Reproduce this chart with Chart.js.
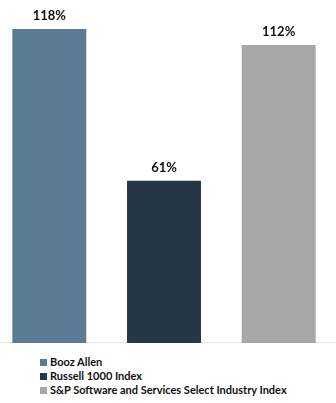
<!DOCTYPE html>
<html lang="en">
<head>
    <meta charset="UTF-8">
    <title>Total Shareholder Return</title>
    <script src="https://cdn.jsdelivr.net/npm/chart.js"></script>
    <style>
        body {
            margin: 0;
            background: #fff;
            width: 336px;
            height: 403px;
            overflow: hidden;
            position: relative;
            font-family: Lato, "Liberation Sans", sans-serif;
        }
        #wrap {
            position: absolute;
            left: -8px;
            top: 0;
            width: 344px;
            height: 343px;
        }
        #legend {
            position: absolute;
            left: 40px;
            top: 355px;
            font-size: 11px;
            font-weight: bold;
            color: #111;
        }
        .item {
            height: 14px;
            line-height: 14px;
            white-space: nowrap;
        }
        .box {
            display: inline-block;
            width: 7px;
            height: 7px;
            margin-right: 3px;
            vertical-align: 0px;
        }
    </style>
</head>
<body>
    <div id="wrap"><canvas id="chart"></canvas></div>
    <div id="legend"></div>

    <script>
        let categories = ["Booz Allen", "Russell 1000 Index", "S&P Software and Services Select Industry Index"];
        let values = [118, 61, 112];
        let colors = ["#5b7b94", "#253647", "#a9a6a6"];

        // value labels above each bar
        const barLabels = {
            id: "barLabels",
            afterDatasetsDraw(chart) {
                let ctx = chart.ctx;
                let meta = chart.getDatasetMeta(0);
                ctx.save();
                ctx.font = "bold 13px Lato, 'Liberation Sans', sans-serif";
                ctx.fillStyle = "#111";
                ctx.textAlign = "center";
                ctx.textBaseline = "alphabetic";
                meta.data.forEach((bar, i) => {
                    ctx.fillText(values[i] + "%", bar.x, bar.y - 9);
                });
                ctx.restore();
            }
        };

        new Chart(document.getElementById("chart"), {
            type: "bar",
            data: {
                labels: categories,
                datasets: [{
                    data: values,
                    backgroundColor: colors,
                    barPercentage: 0.645,
                    categoryPercentage: 1
                }]
            },
            options: {
                responsive: true,
                maintainAspectRatio: false,
                animation: false,
                layout: { padding: { top: 29, bottom: 0 } },
                plugins: {
                    legend: { display: false },
                    tooltip: { enabled: false }
                },
                scales: {
                    x: {
                        grid: { display: false, drawTicks: false },
                        ticks: { display: false, padding: 0 },
                        border: { display: true, color: "#e4e4e4", width: 1.5 }
                    },
                    y: {
                        display: false,
                        min: 0,
                        max: 118
                    }
                }
            },
            plugins: [barLabels]
        });

        let legend = document.getElementById("legend");
        categories.forEach((c, i) => {
            legend.innerHTML += `<div class="item"><span class="box" style="background:${colors[i]}"></span>${c}</div>`;
        });
    </script>
</body>
</html>
